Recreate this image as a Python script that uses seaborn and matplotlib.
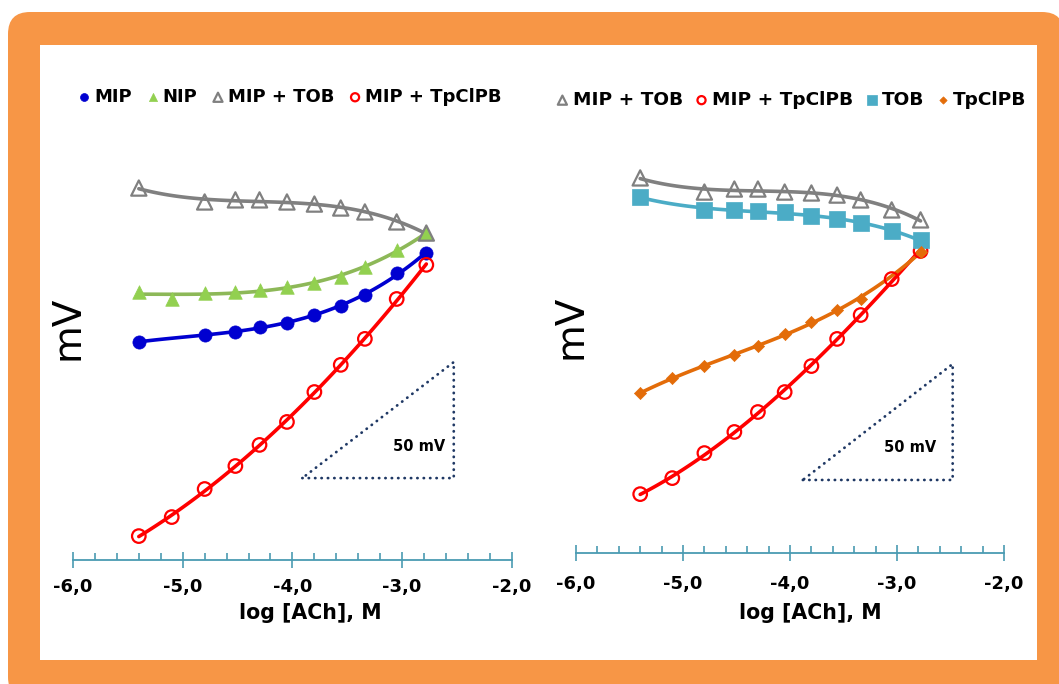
import numpy as np
import matplotlib
matplotlib.use("Agg")
import matplotlib.pyplot as plt
import seaborn as sns
from matplotlib.patches import FancyBboxPatch
from matplotlib.ticker import FixedLocator, FixedFormatter, MultipleLocator

# ---- data: electrode potential (mV) versus log of acetylcholine concentration ----
log_ach = [-5.40, -5.10, -4.80, -4.52, -4.30, -4.05, -3.80, -3.56, -3.34, -3.05, -2.78]
log_ach_a = [-5.40, -4.80, -4.52, -4.30, -4.05, -3.80, -3.56, -3.34, -3.05, -2.78]
log_ach_b = [-5.40, -5.10, -4.80, -4.52, -4.30, -4.05, -3.80, -3.56, -3.34, -2.78]

# left panel
mip = [94.0, 97.0, 98.3, 100.4, 102.2, 105.6, 109.5, 114.2, 123.7, 132.3]
nip = [115.5, 112.5, 115.1, 115.5, 116.4, 117.7, 119.4, 122.0, 126.3, 133.6, 140.9]
mip_tob_l = [160.3, 154.3, 155.2, 155.2, 154.3, 153.4, 151.7, 150.0, 145.7, 140.9]
mip_tpclpb_l = [10.3, 18.5, 30.6, 40.5, 49.6, 59.5, 72.4, 84.1, 95.3, 112.5, 127.2]

# right panel
mip_tob_r = [164.7, 158.6, 159.9, 159.9, 158.6, 158.2, 157.3, 155.2, 150.9, 146.6]
tob = [156.5, 150.9, 150.9, 150.4, 150.0, 148.3, 147.0, 145.3, 141.8, 137.9]
tpclpb = [72.0, 78.4, 83.6, 88.4, 92.2, 97.4, 102.6, 107.8, 112.5, 132.8]
mip_tpclpb_r = [28.4, 35.3, 46.1, 55.2, 63.8, 72.4, 83.6, 95.3, 105.6, 121.1, 133.2]

xtick_values = [-6, -5, -4, -3, -2]
xtick_labels = ["-6,0", "-5,0", "-4,0", "-3,0", "-2,0"]
x_label = "log [ACh], M"
y_label = "mV"
scale_mv = 50

sns.set_style("white")
plt.rcParams["font.family"] = ["DejaVu Sans"]
plt.rcParams["text.color"] = "black"
plt.rcParams["axes.labelcolor"] = "black"
plt.rcParams["xtick.labelcolor"] = "black"

AXIS_COLOR = "#4A9BB2"
FRAME_COLOR = "#F79646"

fig = plt.figure(figsize=(10.59, 6.84), dpi=100)
fig.patch.set_facecolor("white")

# rounded orange frame with a white panel inside
fig.add_artist(FancyBboxPatch((0.08, -0.15), 10.56, 6.87,
                              boxstyle="round,pad=0,rounding_size=0.22",
                              transform=fig.dpi_scale_trans, fc=FRAME_COLOR,
                              ec="none", zorder=-3))
fig.add_artist(FancyBboxPatch((0.40, 0.24), 9.97, 6.15,
                              boxstyle="square,pad=0",
                              transform=fig.dpi_scale_trans, fc="white",
                              ec="none", zorder=-2))

axL = fig.add_axes([0.0689, 0.1813, 0.4145, 0.6287])
axR = fig.add_axes([0.5439, 0.1915, 0.4042, 0.6184])


def draw_series(ax, x, y, color, marker, size, label, filled=True,
                line_color=None, order=3, edge_lw=1.6):
    sns.regplot(x=np.asarray(x), y=np.asarray(y), order=order, ci=None,
                scatter=False, ax=ax, truncate=True,
                line_kws=dict(color=line_color or color, lw=2.6,
                              solid_capstyle="round", zorder=2))
    if filled:
        sns.scatterplot(x=x, y=y, ax=ax, marker=marker, s=size, color=color,
                        edgecolor=color, linewidth=0.5, label=label, zorder=3)
    else:
        sns.scatterplot(x=x, y=y, ax=ax, marker=marker, s=size, color=color,
                        facecolors="none", edgecolor=color,
                        linewidth=edge_lw, label=label, zorder=3)


# left panel series
draw_series(axL, log_ach_a, mip, "#0000D0", "o", 90, "MIP")
draw_series(axL, log_ach, nip, "#92D050", "^", 95, "NIP", line_color="#8DB858")
draw_series(axL, log_ach_a, mip_tob_l, "#808080", "^", 120, "MIP + TOB",
            filled=False)
draw_series(axL, log_ach, mip_tpclpb_l, "#FF0000", "o", 95, "MIP + TpClPB",
            filled=False)

# right panel series
draw_series(axR, log_ach_a, mip_tob_r, "#808080", "^", 120, "MIP + TOB",
            filled=False)
draw_series(axR, log_ach, mip_tpclpb_r, "#FF0000", "o", 95, "MIP + TpClPB",
            filled=False)
draw_series(axR, log_ach_a, tob, "#4BACC6", "s", 120, "TOB")
draw_series(axR, log_ach_b, tpclpb, "#E36C09", "D", 38, "TpClPB")

axes_setup = [
    (axL, (0, 185.34), 7.0, (0.54, -0.100), (-0.0114, 0.5395),
     (-3.91, -2.53, 35.3), (-2.845, 49.1), (77 / 1059, 1 - 88 / 684),
     13.0, 0.75),
    (axR, (3.017, 185.34), 10.0, (0.547, -0.118), (-0.0117, 0.534),
     (-3.88, -2.48, 34.5), (-2.88, 48.3), (555 / 1059, 1 - 91 / 684),
     13.3, 0.62),
]

for (ax, ylim, pad, xlab_xy, ylab_xy, tri, txt_xy, leg_xy,
     leg_size, col_space) in axes_setup:
    ax.set_facecolor("none")
    ax.set_xlim(-6, -2)
    ax.set_ylim(*ylim)
    ax.xaxis.set_major_locator(FixedLocator(xtick_values))
    ax.xaxis.set_major_formatter(FixedFormatter(xtick_labels))
    ax.xaxis.set_minor_locator(MultipleLocator(0.2))
    ax.set_yticks([])
    ax.tick_params(axis="x", which="major", direction="inout", length=12,
                   width=1.2, color=AXIS_COLOR, labelsize=13, pad=pad,
                   bottom=True, labelcolor="black")
    ax.tick_params(axis="x", which="minor", direction="in", length=5,
                   width=1.2, color=AXIS_COLOR, bottom=True)
    for lbl in ax.get_xticklabels():
        lbl.set_fontweight("bold")
    for side in ("top", "right", "left"):
        ax.spines[side].set_visible(False)
    ax.spines["bottom"].set_color(AXIS_COLOR)
    ax.spines["bottom"].set_linewidth(1.3)

    ax.set_xlabel(x_label, fontsize=14.8, fontweight="bold", color="black")
    ax.xaxis.set_label_coords(*xlab_xy)
    ax.set_ylabel(y_label, fontsize=28, va="center", color="black")
    ax.yaxis.set_label_coords(*ylab_xy)

    # 50 mV slope guide
    x0, x1, y0 = tri
    ax.plot([x0, x1, x1, x0], [y0, y0, y0 + scale_mv, y0], color="#1F3864",
            lw=2.0, linestyle=(0, (0.1, 2.2)), dash_capstyle="round",
            zorder=1)
    ax.text(*txt_xy, f"{scale_mv} mV", ha="center", va="center",
            fontsize=10.5, fontweight="bold", color="black")

    handles, labels = ax.get_legend_handles_labels()
    leg = ax.legend(handles, labels, ncol=4, loc="upper left",
                    bbox_to_anchor=leg_xy, bbox_transform=fig.transFigure,
                    frameon=False, borderpad=0, borderaxespad=0,
                    handlelength=0.8, handletextpad=0.15,
                    columnspacing=col_space, markerscale=0.6,
                    prop=dict(weight="bold", size=leg_size))
    for t in leg.get_texts():
        t.set_color("black")

fig.savefig("out.png", dpi=100, facecolor="white")
